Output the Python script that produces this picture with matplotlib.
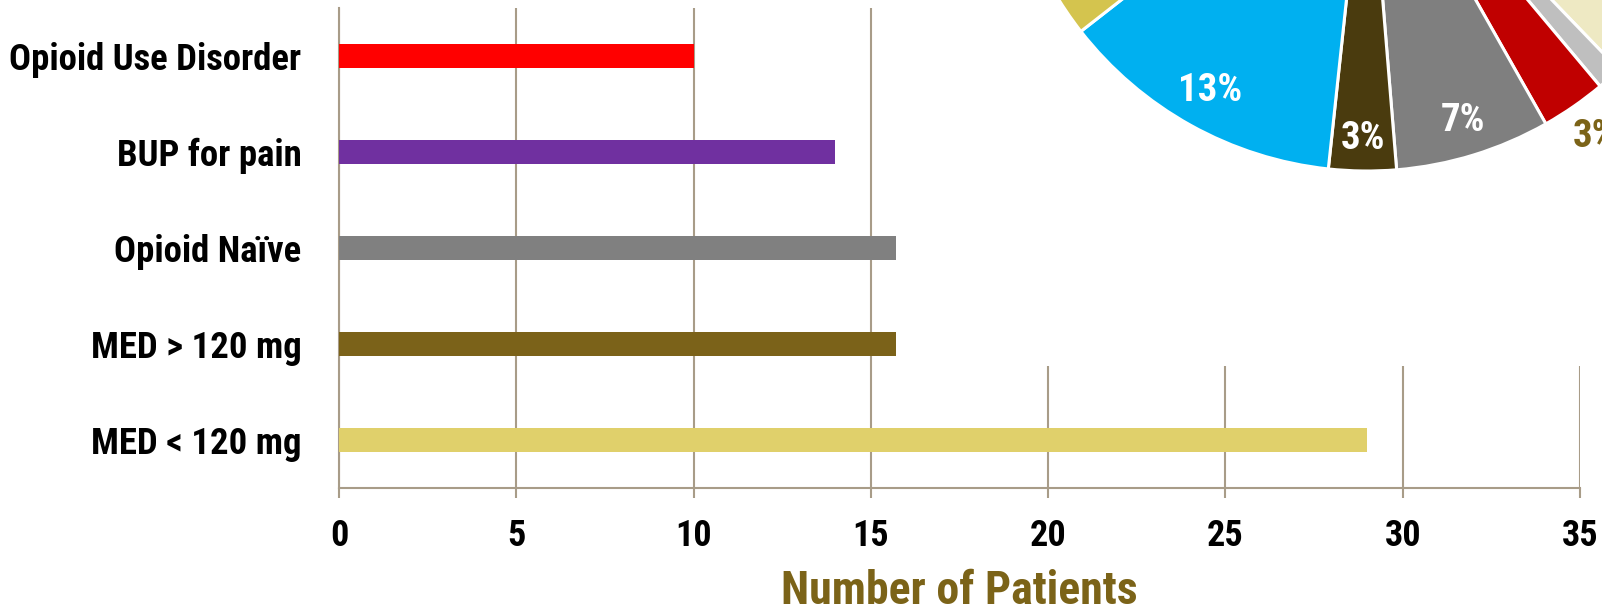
import matplotlib
matplotlib.use("Agg")
import matplotlib.pyplot as plt
from matplotlib import font_manager as fm
from matplotlib.patches import Rectangle
import numpy as np

# ---------------- data ----------------
categories = ["Opioid Use Disorder", "BUP for pain", "Opioid Naïve", "MED > 120 mg", "MED < 120 mg"]
patients = [10, 14, 15.7, 15.7, 29]
bar_colors = ["#FF0000", "#7030A0", "#808080", "#7B6219", "#E0D06B"]
x_ticks = [0, 5, 10, 15, 20, 25, 30, 35]
x_label = "Number of Patients"

# pie (clockwise from 12 o'clock); only the lower part is visible
pie_shares = [37.8, 1.1, 2.9, 6.9, 3.0, 12.75, 35.55]
pie_colors = ["#EEE9C3", "#BFBFBF", "#C00000", "#7F7F7F", "#4A3B0E", "#00B0F0", "#D4C44E"]
pie_labeled = [False, False, True, True, True, True, False]

# ---------------- fonts ----------------
names = {f.name for f in fm.fontManager.ttflist}
cands = ["Liberation Sans Narrow", "Roboto Condensed", "Open Sans Condensed", "Arial Narrow", "Liberation Sans"]
FONT = next((c for c in cands if c in names), "DejaVu Sans")
plt.rcParams["font.family"] = [FONT, "DejaVu Sans"]
plt.rcParams["font.weight"] = "bold"

OLIVE = "#7B6318"
GRID = "#A89C88"

W, H = 1602, 610
fig = plt.figure(figsize=(W / 100, H / 100), dpi=100)

# ---------------- bar chart ----------------
x0, x1, ytop, ybot = 339, 1580, 8, 488
ax = fig.add_axes([x0 / W, 1 - ybot / H, (x1 - x0) / W, (ybot - ytop) / H])
ypos = np.arange(len(categories))
ax.barh(ypos, patients, height=0.25, color=bar_colors, zorder=3)
ax.set_ylim(len(categories) - 0.5, -0.5)
ax.set_xlim(x_ticks[0], x_ticks[-1])
ax.set_xticks(x_ticks)
ax.set_xticklabels([str(t) for t in x_ticks])
ax.set_yticks(ypos)
ax.set_yticklabels(categories)
ax.xaxis.grid(True, color=GRID, linewidth=1.5, zorder=0)
ax.set_axisbelow(True)
for s in ["top", "right"]:
    ax.spines[s].set_visible(False)
for s in ["left", "bottom"]:
    ax.spines[s].set_color(GRID)
    ax.spines[s].set_linewidth(1.5)
ax.tick_params(axis="x", direction="out", length=7.5, width=1.5, color=GRID,
               labelsize=26, labelcolor="black", pad=14)
ax.tick_params(axis="y", length=0, labelsize=26.5, labelcolor="black", pad=27)
for t in ax.get_xticklabels() + ax.get_yticklabels():
    t.set_fontweight("bold")
ax.set_xlabel(x_label, fontsize=33, color=OLIVE, fontweight="bold", labelpad=11)

# white background of the pie chart object covering the grid
fig.add_artist(Rectangle((960 / W, 1 - 366 / H), 1 - 960 / W, 366 / H,
                         transform=fig.transFigure, facecolor="white",
                         edgecolor="none", zorder=1))

# ---------------- pie chart ----------------
cx, cy, R = 1367, -192, 363
axp = fig.add_axes([(cx - R) / W, 1 - (cy + R) / H, 2 * R / W, 2 * R / H])
axp.set_zorder(2)
wedges, _ = axp.pie(pie_shares, colors=pie_colors, startangle=90, counterclock=False,
                    radius=1, wedgeprops=dict(edgecolor="white", linewidth=2.2))
axp.set_aspect("auto")
axp.set_xlim(-1, 1)
axp.set_ylim(-1, 1)
axp.axis("off")
axp.patch.set_alpha(0)

label_dist = [0.75, 1.12, 1.1, 0.9, 0.91, 0.89, 0.75]
label_col = ["white", OLIVE, OLIVE, "white", "white", "white", "white"]
for w, v, d, c, show in zip(wedges, pie_shares, label_dist, label_col, pie_labeled):
    if not show:
        continue
    th = np.deg2rad((w.theta1 + w.theta2) / 2)
    axp.text(d * np.cos(th), d * np.sin(th), f"{round(v)}%", ha="center", va="center",
             fontsize=28, fontweight="bold", color=c, clip_on=False)

fig.savefig("out.png", dpi=100, facecolor="white")
